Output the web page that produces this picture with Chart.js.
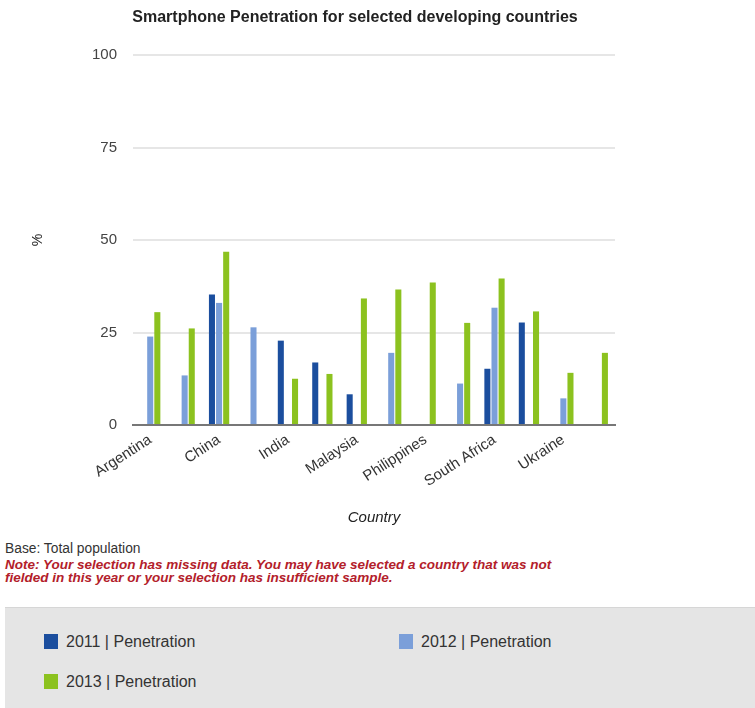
<!DOCTYPE html>
<html>
<head>
<meta charset="utf-8">
<script src="https://cdn.jsdelivr.net/npm/chart.js@4/dist/chart.umd.min.js"></script>
<style>
  html, body { margin: 0; padding: 0; background: #fff; width: 755px; height: 708px; overflow: hidden; font-family: "Liberation Sans", Arial, sans-serif; }
  #wrap { position: absolute; left: 0; top: 0; width: 755px; height: 530px; }
  #base { position: absolute; left: 5px; top: 541px; font-size: 13.8px; color: #333; }
  #note { position: absolute; left: 5px; top: 559px; font-size: 13.5px; line-height: 12.5px; color: #b3202a; font-weight: bold; font-style: italic; width: 640px; }
  #legend { position: absolute; left: 5px; top: 607px; width: 750px; height: 101px; background: #e5e5e5; border-top: 1px solid #d6d6d6; }
  .item { position: absolute; font-size: 16px; color: #333; line-height: 16px; }
  .sw { position: absolute; width: 14px; height: 15px; }
  .lt { position: absolute; white-space: nowrap; }
</style>
</head>
<body>
<div id="wrap"><canvas id="c" width="755" height="530"></canvas></div>
<div id="base">Base: Total population</div>
<div id="note">Note: Your selection has missing data. You may have selected a country that was not<br>fielded in this year or your selection has insufficient sample.</div>
<div id="legend"></div>
<script>
const titleText = "Smartphone Penetration for selected developing countries";
const categories = ["Argentina", "Brazil", "China", "Egypt", "India", "Indonesia", "Malaysia", "Mexico", "Philippines", "Russia", "South Africa", "Turkey", "Ukraine", "Vietnam"];
const seriesNames = ["2011 | Penetration", "2012 | Penetration", "2013 | Penetration"];
const values2011 = [null, null, 35.3, null, 22.8, 16.9, 8.3, null, null, null, 15.2, 27.7, null, null];
const values2012 = [23.9, 13.4, 33.0, 26.4, null, null, null, 19.5, null, 11.2, 31.7, null, 7.2, null];
const values2013 = [30.5, 26.1, 46.8, null, 12.5, 13.8, 34.2, 36.6, 38.5, 27.6, 39.6, 30.7, 14.1, 19.5];
const yTicks = [0, 25, 50, 75, 100];
const colors = ["#1b4e9e", "#7b9fd9", "#8cc21f"];

const FONT = '"Liberation Sans", Arial, sans-serif';

const datasets = [values2011, values2012, values2013].map((v, i) => ({
  label: seriesNames[i],
  data: v,
  backgroundColor: colors[i],
  borderWidth: 0,
  categoryPercentage: 0.62,
  barPercentage: 0.85
}));

const titlePlugin = {
  id: 'topTitle',
  afterDraw(chart) {
    const ctx = chart.ctx;
    ctx.save();
    ctx.font = 'bold 16px ' + FONT;
    ctx.fillStyle = '#222';
    ctx.textAlign = 'center';
    ctx.textBaseline = 'middle';
    ctx.fillText(titleText, 355, 18);
    ctx.restore();
  }
};

new Chart(document.getElementById('c'), {
  type: 'bar',
  data: { labels: categories, datasets },
  plugins: [titlePlugin],
  options: {
    responsive: false,
    animation: false,
    devicePixelRatio: 1,
    layout: { padding: { left: 20, right: 140, top: 55, bottom: 0 } },
    plugins: { legend: { display: false }, tooltip: { enabled: false }, title: { display: false } },
    scales: {
      x: {
        grid: { display: false, drawTicks: false },
        border: { display: true, color: '#777', width: 2 },
        ticks: {
          autoSkip: false,
          minRotation: 33,
          maxRotation: 33,
          padding: 6,
          color: '#333',
          font: { family: FONT, size: 15 },
          callback: function(val, idx) { return idx % 2 === 0 ? this.getLabelForValue(val) : ''; }
        },
        title: { display: true, text: 'Country', color: '#222', font: { family: FONT, size: 15, style: 'italic' }, padding: { top: 0, bottom: 3 } },
        afterFit(scale) { scale.height = 105; }
      },
      y: {
        min: 0, max: 100,
        afterBuildTicks(scale) { scale.ticks = yTicks.map(v => ({ value: v })); },
        grid: {
          drawTicks: false,
          lineWidth: 2,
          color: (c) => c.tick && c.tick.value === 0 ? '#777' : '#e6e6e6'
        },
        border: { display: false },
        ticks: { padding: 16, color: '#444', font: { family: FONT, size: 15 } },
        title: { display: true, text: '%', color: '#222', font: { family: FONT, size: 14 }, padding: { top: 10, bottom: 0 } },
        afterFit(scale) { scale.width = 113; }
      }
    }
  }
});

// HTML legend built from the series definitions
const legend = document.getElementById('legend');
const pos = [[39, 26], [394, 26], [39, 66]];
seriesNames.forEach((name, i) => {
  const sw = document.createElement('div');
  sw.className = 'sw';
  sw.style.left = pos[i][0] + 'px';
  sw.style.top = pos[i][1] + 'px';
  sw.style.background = colors[i];
  legend.appendChild(sw);
  const t = document.createElement('div');
  t.className = 'item lt';
  t.style.left = (pos[i][0] + 22) + 'px';
  t.style.top = (pos[i][1]) + 'px';
  t.textContent = name;
  legend.appendChild(t);
});
</script>
</body>
</html>
